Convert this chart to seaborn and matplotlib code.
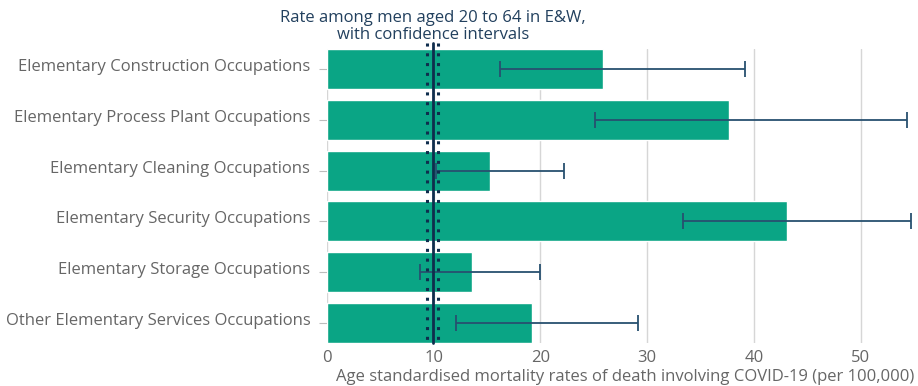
import matplotlib
matplotlib.use("Agg")
import matplotlib.pyplot as plt
import matplotlib.transforms as mtransforms
import seaborn as sns
import pandas as pd

# Age-standardised COVID-19 mortality rates, elementary occupations (men 20-64)
occupations = [
    "Elementary Construction Occupations",
    "Elementary Process Plant Occupations",
    "Elementary Cleaning Occupations",
    "Elementary Security Occupations",
    "Elementary Storage Occupations",
    "Other Elementary Services Occupations",
]
rates = [25.9, 37.7, 15.3, 43.1, 13.6, 19.2]
ci_lower = [16.2, 25.1, 10.2, 33.4, 8.7, 12.1]
ci_upper = [39.2, 54.3, 22.2, 54.7, 20.0, 29.1]

# Overall rate for men aged 20 to 64 in England and Wales
overall_rate = 9.9
overall_lower = 9.4
overall_upper = 10.4

x_ticks = [0, 10, 20, 30, 40, 50]

BAR = "#0aa585"
ERR = "#27506f"
REF = "#0f2d4d"
TITLE = "#22405e"
TEXT = "#666666"
GRID = "#d6d6d6"

sns.set_theme(style="white")
plt.rcParams["font.family"] = ["Open Sans", "DejaVu Sans"]

df = pd.DataFrame({"occupation": occupations, "rate": rates})

fig = plt.figure(figsize=(9.18, 3.86), dpi=100)
ax = fig.add_axes([327 / 918, 1 - 343 / 386, (914 - 327) / 918, (343 - 49) / 386])

sns.barplot(data=df, x="rate", y="occupation", orient="h", color=BAR,
            saturation=1, width=0.79, ax=ax, zorder=2)

ypos = list(range(len(occupations)))
xerr = [[r - lo for r, lo in zip(rates, ci_lower)],
        [hi - r for r, hi in zip(rates, ci_upper)]]
ax.errorbar(rates, ypos, xerr=xerr, fmt="none", ecolor=ERR, elinewidth=1.3,
            capsize=6, capthick=1.3, zorder=4)

n = len(occupations)
ax.set_xlim(0, 55)
ax.set_ylim(n - 1 + 0.4, -0.4)
ax.set_xticks(x_ticks)
ax.xaxis.grid(True, color=GRID, linewidth=1, zorder=0)
ax.set_axisbelow(True)
for s in ax.spines.values():
    s.set_visible(False)

ax.tick_params(axis="x", length=0, labelsize=12, labelcolor=TEXT, pad=5)
ax.tick_params(axis="y", left=True, length=6, width=0.8, color="#bdbdbd",
               labelsize=12, labelcolor=TEXT, pad=6)
ax.set_ylabel("")
ax.set_xlabel("Age standardised mortality rates of death involving COVID-19 (per 100,000)",
              fontsize=12, color=TEXT, labelpad=2, loc="right")

# Category labels sit slightly above their tick marks
lift = mtransforms.ScaledTranslation(0, 4 / 100, fig.dpi_scale_trans)
for lbl in ax.get_yticklabels():
    lbl.set_transform(lbl.get_transform() + lift)

# Reference line with its confidence interval
y_top = -0.52
y_bot = n - 1 + 0.4
ax.plot([overall_rate, overall_rate], [y_top, y_bot], color=REF, linewidth=2,
        clip_on=False, zorder=5)
for v in (overall_lower, overall_upper):
    ax.plot([v, v], [y_top, y_bot], color=REF, linewidth=2.2,
            linestyle=(0, (1, 2.2)), clip_on=False, zorder=5)

ax.text(overall_rate, -0.52, "Rate among men aged 20 to 64 in E&W,\nwith confidence intervals",
        ha="center", va="bottom", fontsize=12, color=TITLE, linespacing=1.1)

fig.savefig("out.png", dpi=100)
